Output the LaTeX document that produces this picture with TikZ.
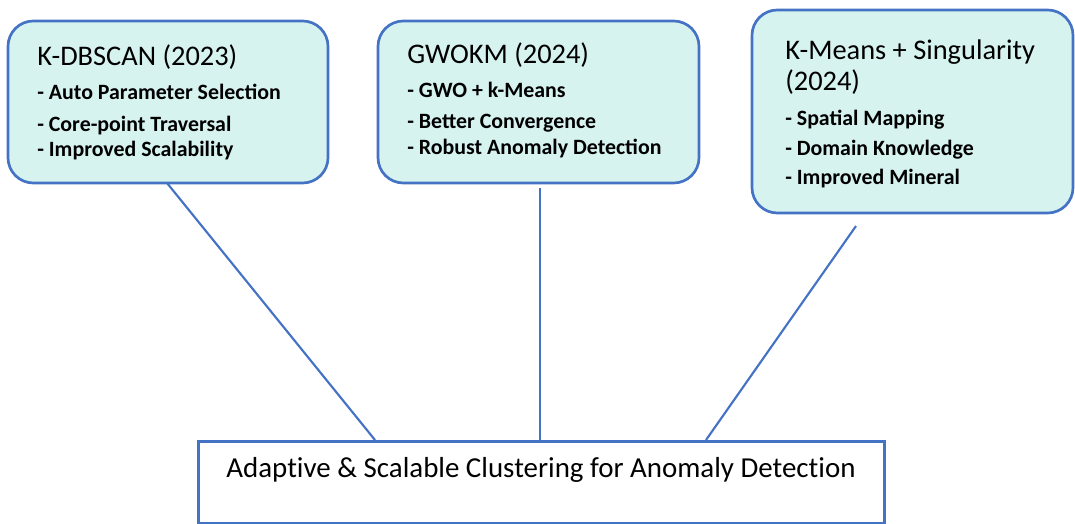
\documentclass[tikz,border=0pt]{standalone}
\usepackage{fontspec}
\setmainfont{Carlito}
\newfontfamily\basefont[Ligatures=NoCommon]{Carlito}
\definecolor{edgeblue}{RGB}{68,114,196}
\definecolor{boxfill}{RGB}{214,243,240}
\begin{document}
\begin{tikzpicture}[x=0.75pt,y=-0.75pt,
  topbox/.style={draw=edgeblue,line width=2pt,fill=boxfill,rounded corners=19pt},
  basebox/.style={draw=edgeblue,line width=2pt,fill=white},
  ttl/.style={anchor=base west,inner sep=0pt,font=\fontsize{21.3}{24}\selectfont},
  itm/.style={anchor=base west,inner sep=0pt,font=\fontsize{16.4}{19}\selectfont\bfseries},
  conn/.style={draw=edgeblue,line width=1.6pt}]
\useasboundingbox (0,0) rectangle (1075,524);
% boxes
\draw[topbox] (8,21) rectangle (328,183);
\draw[topbox] (378,21) rectangle (699,183);
\draw[topbox] (752,10) rectangle (1073,213);
\node[basebox,minimum width=686*0.75pt,minimum height=82*0.75pt,anchor=north west,inner sep=0pt] (base) at (197,440) {};
\node[anchor=base,inner sep=0pt,font=\basefont\fontsize{21.7}{24}\selectfont] (basetxt) at (541,477) {Adaptive \& Scalable Clustering for Anomaly Detection};
% box 1
\node[ttl] (t1) at (37,66) {K-DBSCAN (2023)};
\node[itm] (a1) at (37,100) {- Auto Parameter Selection};
\node[itm] (a2) at (37,132) {- Core-point Traversal};
\node[itm] (a3) at (37,157) {- Improved Scalability};
% box 2
\node[ttl] (t2) at (407,64) {GWOKM (2024)};
\node[itm] (b1) at (407,98) {- GWO + k-Means};
\node[itm] (b2) at (407,129) {- Better Convergence};
\node[itm] (b3) at (407,155) {- Robust Anomaly Detection};
% box 3
\node[ttl] (t3) at (785,60) {K-Means + Singularity};
\node[ttl] (t3b) at (785,91) {(2024)};
\node[itm] (c1) at (785,126) {- Spatial Mapping};
\node[itm] (c2) at (785,156) {- Domain Knowledge};
\node[itm] (c3) at (785,185) {- Improved Mineral};
% connectors
\coordinate (s1) at (167,183);
\coordinate (e1) at (375,440);
\coordinate (s2) at (540,188);
\coordinate (e2) at (540,440);
\coordinate (s3) at (856,226);
\coordinate (e3) at (706,440);
\draw[conn] (s1) -- (e1);
\draw[conn] (s2) -- (e2);
\draw[conn] (s3) -- (e3);
\end{tikzpicture}
\end{document}
